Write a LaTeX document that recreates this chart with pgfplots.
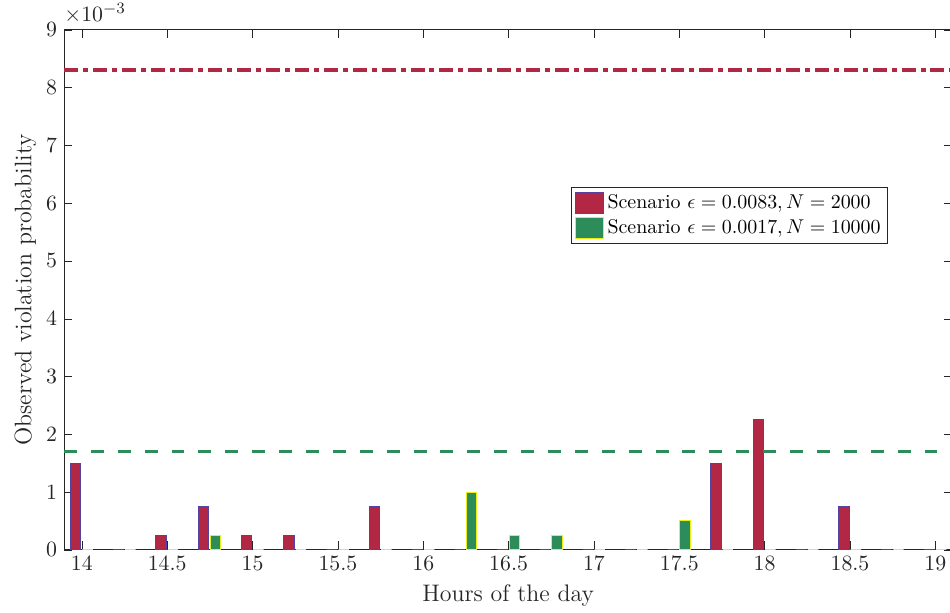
\documentclass[border=0pt]{standalone}
\usepackage{pgfplots}
\pgfplotsset{compat=1.18}
\usepackage{pgfplotstable}
\definecolor{barred}{RGB}{178,40,68}
\definecolor{bargreen}{RGB}{44,140,90}
\definecolor{edgeblue}{RGB}{85,65,160}
\definecolor{edgeyellow}{RGB}{235,240,20}
\definecolor{axgray}{RGB}{38,38,38}

\pgfplotstableread{
x      red      green
14     0.0015   0
14.25  0        0
14.5   0.00025  0
14.75  0.00075  0.00025
15     0.00025  0
15.25  0.00025  0
15.5   0        0
15.75  0.00075  0
16     0        0
16.25  0        0.001
16.5   0        0.00025
16.75  0        0.00025
17     0        0
17.25  0        0
17.5   0        0.0005
17.75  0.0015   0
18     0.00225  0
18.25  0        0
18.5   0.00075  0
18.75  0        0
19     0        0
}\data

\begin{document}
\begin{tikzpicture}
\begin{axis}[
  scale only axis, width=446pt, height=261pt,
  xmin=13.895, xmax=19.1, ymin=0, ymax=0.009,
  xtick={14,14.5,15,15.5,16,16.5,17,17.5,18,18.5,19},
  ytick={0,0.001,0.002,0.003,0.004,0.005,0.006,0.007,0.008,0.009},
  scaled y ticks=base 10:3,
  tick scale binop=\times,
  every y tick scale label/.style={at={(rel axis cs:0,1)},anchor=south west,inner sep=0pt,yshift=3pt,font=\fontsize{11}{13}\selectfont,color=axgray},
  yticklabel style={/pgf/number format/fixed},
  tick label style={font=\fontsize{11}{13}\selectfont, color=axgray},
  label style={font=\fontsize{12}{14}\selectfont, color=axgray},
  ylabel style={xshift=0pt,yshift=-2pt},
  axis line style={axgray}, tick style={axgray},
  xlabel={Hours of the day},
  ylabel={Observed violation probability},
  legend style={at={(0.571,0.697)},anchor=north west, font=\fontsize{10}{12}\selectfont, draw=axgray, inner sep=1.5pt, row sep=0pt},
  legend cell align=left,
]
\addplot[ybar, bar width=0.061, bar shift=-0.036, fill=barred, draw=edgeblue, line width=0.5pt,
  legend image code/.code={\draw[fill=barred,draw=edgeblue,line width=0.5pt] (0pt,-5pt) rectangle (14pt,5.5pt);}]
  table[x=x,y=red]{\data};
\addlegendentry{Scenario $\epsilon=0.0083, N=2000$}
\addplot[ybar, bar width=0.061, bar shift=0.034, fill=bargreen, draw=edgeyellow, line width=0.5pt,
  legend image code/.code={\draw[fill=bargreen,draw=edgeyellow,line width=0.5pt] (0pt,-5pt) rectangle (14pt,5.5pt);}]
  table[x=x,y=green]{\data};
\addlegendentry{Scenario $\epsilon=0.0017, N=10000$}
\addplot[forget plot, barred, line width=2pt, dash pattern=on 7pt off 2.5pt on 2.5pt off 2.5pt]
  coordinates {(13.895,0.0083) (19.1,0.0083)};
\addplot[forget plot, bargreen, line width=1.6pt, dash pattern=on 6.5pt off 7pt]
  coordinates {(13.895,0.0017) (19.1,0.0017)};
\end{axis}
\pgfresetboundingbox
\path ([xshift=-4pt]current axis.outer south west) rectangle ([xshift=-1.2pt,yshift=15pt]current axis.north east);
\end{tikzpicture}
\end{document}
